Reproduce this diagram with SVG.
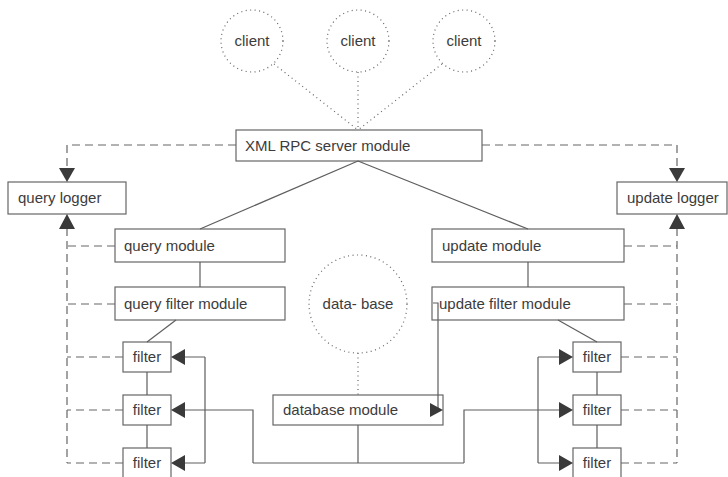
<svg xmlns="http://www.w3.org/2000/svg" width="728" height="477" viewBox="0 0 728 477">
  <style>
    .box { fill: #ffffff; stroke: #666666; stroke-width: 1.2; }
    .circ { fill: none; stroke: #666666; stroke-width: 1.2; stroke-dasharray: 1 3.5; }
    .lbl { font-family: "Liberation Sans", Arial, sans-serif; font-size: 15px; fill: #3c3c3c; }
    .mid { text-anchor: middle; }
    .solid { fill: none; stroke: #5e5e5e; stroke-width: 1.2; }
    .dash { fill: none; stroke: #666666; stroke-width: 1.2; stroke-dasharray: 8 5; }
    .dot { fill: none; stroke: #666666; stroke-width: 1.2; stroke-dasharray: 1 3.5; }
    .head { fill: #3a3a3a; }
  </style>
  <rect width="728" height="477" fill="#ffffff"/>

  <g id="client1">
    <circle class="circ" cx="252" cy="41" r="31"/>
    <text class="lbl mid" x="252" y="46">client</text>
  </g>
  <g id="client2">
    <circle class="circ" cx="358" cy="41" r="31"/>
    <text class="lbl mid" x="358" y="46">client</text>
  </g>
  <g id="client3">
    <circle class="circ" cx="464" cy="41" r="31"/>
    <text class="lbl mid" x="464" y="46">client</text>
  </g>

  <g id="xml-rpc-server">
    <rect class="box" x="236" y="130" width="246" height="31"/>
    <text class="lbl" x="245" y="151">XML RPC server module</text>
  </g>

  <g id="query-logger">
    <rect class="box" x="8" y="182" width="118" height="32"/>
    <text class="lbl" x="18" y="203">query logger</text>
  </g>
  <g id="update-logger">
    <rect class="box" x="617" y="182" width="110" height="32"/>
    <text class="lbl" x="627" y="203">update logger</text>
  </g>

  <g id="query-module">
    <rect class="box" x="115" y="229" width="170" height="33"/>
    <text class="lbl" x="124" y="251">query module</text>
  </g>
  <g id="query-filter-module">
    <rect class="box" x="115" y="287" width="170" height="33"/>
    <text class="lbl" x="124" y="309">query filter module</text>
  </g>
  <g id="update-module">
    <rect class="box" x="432" y="229" width="192" height="33"/>
    <text class="lbl" x="442" y="251">update module</text>
  </g>
  <g id="update-filter-module">
    <rect class="box" x="432" y="287" width="192" height="33"/>
    <text class="lbl" x="439" y="309">update filter module</text>
  </g>

  <g id="database">
    <circle class="circ" cx="358" cy="304" r="49"/>
    <text class="lbl mid" x="358" y="309">data- base</text>
  </g>
  <g id="database-module">
    <rect class="box" x="273" y="395" width="170" height="30"/>
    <text class="lbl" x="283" y="415">database module</text>
  </g>

  <g id="query-filter-1">
    <rect class="box" x="123" y="342" width="48" height="30"/>
    <text class="lbl mid" x="147" y="362">filter</text>
  </g>
  <g id="query-filter-2">
    <rect class="box" x="123" y="395" width="48" height="30"/>
    <text class="lbl mid" x="147" y="415">filter</text>
  </g>
  <g id="query-filter-3">
    <rect class="box" x="123" y="448" width="48" height="30"/>
    <text class="lbl mid" x="147" y="468">filter</text>
  </g>
  <g id="update-filter-1">
    <rect class="box" x="573" y="342" width="48" height="30"/>
    <text class="lbl mid" x="597" y="362">filter</text>
  </g>
  <g id="update-filter-2">
    <rect class="box" x="573" y="395" width="48" height="30"/>
    <text class="lbl mid" x="597" y="415">filter</text>
  </g>
  <g id="update-filter-3">
    <rect class="box" x="573" y="448" width="48" height="30"/>
    <text class="lbl mid" x="597" y="468">filter</text>
  </g>

  <!-- connectors are drawn last so the ones entering boxes stay visible -->
  <g id="connectors">
    <!-- clients to server (dotted) -->
    <path class="dot" d="M274,64 L358,130"/>
    <path class="dot" d="M358,72 L358,130"/>
    <path class="dot" d="M442,64 L358,130"/>
    <!-- server to loggers (dashed) -->
    <path class="dash" d="M236,145 H67 V168"/>
    <path class="dash" d="M482,145 H677 V168"/>
    <!-- server to modules -->
    <path class="solid" d="M358,161 L200,229"/>
    <path class="solid" d="M358,161 L528,229"/>
    <!-- module chains -->
    <path class="solid" d="M200,262 V287"/>
    <path class="solid" d="M528,262 V287"/>
    <path class="solid" d="M176,320 L147,342"/>
    <path class="solid" d="M558,320 L597,342"/>
    <path class="solid" d="M147,372 V395 M147,425 V448"/>
    <path class="solid" d="M597,372 V395 M597,425 V448"/>
    <!-- query side logging (dashed) -->
    <path class="dash" d="M67,228 V463"/>
    <path class="dash" d="M115,246 H67 M115,304 H67 M123,357 H67 M123,410 H67 M123,463 H67"/>
    <!-- update side logging (dashed) -->
    <path class="dash" d="M677,228 V463"/>
    <path class="dash" d="M624,246 H677 M624,304 H677 M621,357 H677 M621,410 H677 M621,463 H677"/>
    <!-- database distribution -->
    <path class="dot" d="M358,353 V395"/>
    <path class="solid" d="M358,425 V463 M253,463 H464"/>
    <path class="solid" d="M253,463 V410 H185"/>
    <path class="solid" d="M205,357 V463 M205,357 H185 M205,463 H185"/>
    <path class="solid" d="M464,463 V410 H560"/>
    <path class="solid" d="M538,357 V463 M538,357 H560 M538,463 H560"/>
    <!-- update filter module to database module -->
    <path class="solid" d="M433,303 H438 V410 H431"/>
    <!-- arrowheads -->
    <polygon class="head" points="67,182 59,168 75,168"/>
    <polygon class="head" points="677,182 669,168 685,168"/>
    <polygon class="head" points="67,214 59,229 75,229"/>
    <polygon class="head" points="677,214 669,229 685,229"/>
    <polygon class="head" points="171,357 185,349 185,365"/>
    <polygon class="head" points="171,410 185,402 185,418"/>
    <polygon class="head" points="171,463 185,455 185,471"/>
    <polygon class="head" points="573,357 559,349 559,365"/>
    <polygon class="head" points="573,410 559,402 559,418"/>
    <polygon class="head" points="573,463 559,455 559,471"/>
    <polygon class="head" points="443,410 430,403 430,417"/>
  </g>
</svg>
